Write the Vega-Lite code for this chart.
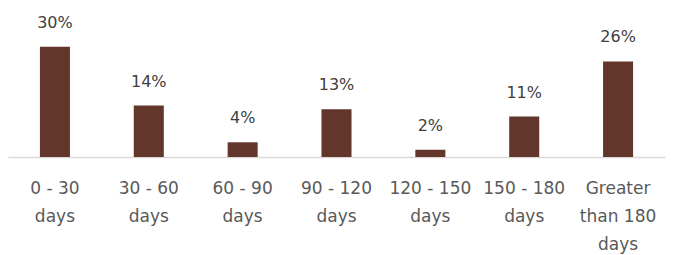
{
  "$schema": "https://vega.github.io/schema/vega-lite/v6.json",
  "width": 657,
  "height": 147,
  "autosize": {"type": "none"},
  "padding": {"left": 8, "top": 10, "right": 9, "bottom": 98},
  "background": "white",
  "data": {"values": [
    {"bucket": "0 - 30|days", "pct": 0.30},
    {"bucket": "30 - 60|days", "pct": 0.14},
    {"bucket": "60 - 90|days", "pct": 0.04},
    {"bucket": "90 - 120|days", "pct": 0.13},
    {"bucket": "120 - 150|days", "pct": 0.02},
    {"bucket": "150 - 180|days", "pct": 0.11},
    {"bucket": "Greater|than 180|days", "pct": 0.26}
  ]},
  "config": {"view": {"stroke": null}, "font": "DejaVu Sans"},
  "encoding": {
    "x": {
      "field": "bucket", "type": "nominal", "sort": null,
      "scale": {"paddingInner": 0.68, "paddingOuter": 0.34},
      "axis": {
        "title": null, "labelAngle": 0, "ticks": false,
        "domainColor": "#D9D9D9", "domainWidth": 1.5,
        "labelExpr": "split(datum.label, '|')",
        "labelFontSize": 17, "labelColor": "#595959", "labelFont": "DejaVu Sans",
        "labelLineHeight": 28, "labelPadding": 23, "labelBaseline": "top"
      }
    },
    "y": {
      "field": "pct", "type": "quantitative",
      "scale": {"domain": [0, 0.4]},
      "axis": null
    }
  },
  "layer": [
    {"mark": {"type": "bar", "color": "#62362B"}},
    {
      "mark": {"type": "text", "dy": -24, "fontSize": 16, "color": "#404040", "font": "DejaVu Sans"},
      "encoding": {"text": {"field": "pct", "type": "quantitative", "format": ".0%"}}
    }
  ]
}
